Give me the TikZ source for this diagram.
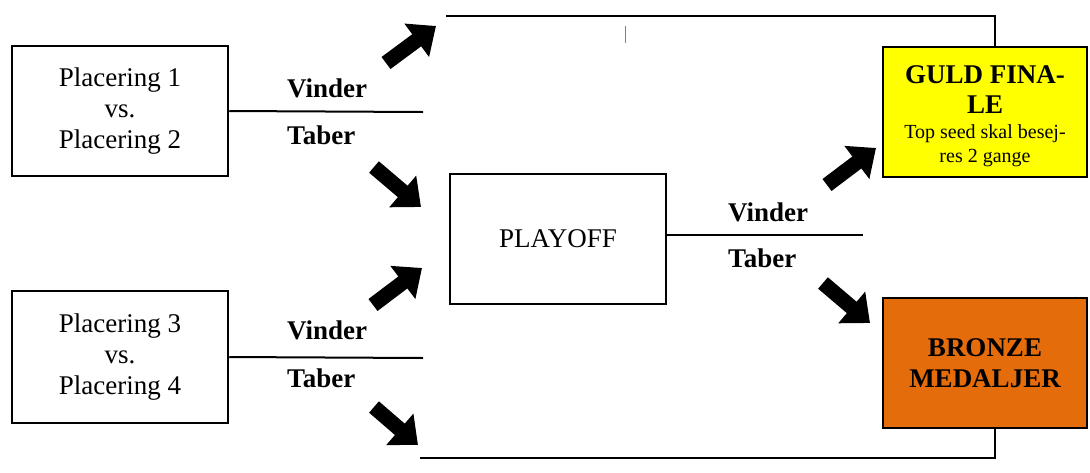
\documentclass[tikz,border=0pt]{standalone}
\usepackage{fontspec}
\setmainfont{Liberation Serif}
\usetikzlibrary{arrows.meta}
\definecolor{guld}{HTML}{FFFF00}
\definecolor{bronze}{HTML}{E46C0A}
\tikzset{
  box/.style={draw, line width=2.5pt, align=center, inner sep=0pt, minimum width=216pt, minimum height=130pt, font=\fontsize{27}{31}\selectfont},
  res/.style={anchor=west, inner sep=0pt, font=\fontsize{27}{31}\selectfont\bfseries},
  line/.style={line width=2pt},
  fat/.style={line width=15pt, -{Triangle[length=24pt,width=40pt]}}
}
\begin{document}
\begin{tikzpicture}[x=1pt,y=-1pt]
\useasboundingbox (0,0) rectangle (1090,472);
% kampe
\node[box, text depth=6pt] (k1) at (120,111) {Placering 1\\vs.\\Placering 2};
\node[box, text depth=6pt, minimum height=132pt] (k2) at (120,357) {Placering 3\\vs.\\Placering 4};
\node[box] (po) at (558,239) {PLAYOFF};
\node[box, fill=guld, minimum width=204pt] (gf) at (985,112) {};
\node[box, fill=bronze, minimum width=204pt] (bm) at (985,363) {\bfseries BRONZE\\\bfseries MEDALJER};
\node[align=center, inner sep=0pt, font=\fontsize{27}{30}\selectfont\bfseries] (gft) at (985,90) {GULD FINA-\\LE};
\node[align=center, inner sep=0pt, font=\fontsize{20}{24}\selectfont] (gfs) at (985,146) {Top seed skal besej-\\res 2 gange};
% streger
\coordinate (e1) at (423,112);
\coordinate (e2) at (423,358);
\coordinate (e3) at (863,235);
\draw[line] (k1.east) -- (e1);
\draw[line] (k2.east) -- (e2);
\draw[line] (po.east |- e3) -- (e3);
\node[res] (v1) at (287,88) {Vinder};
\node[res] (t1) at (287,135) {Taber};
\node[res] (v2) at (287,330) {Vinder};
\node[res] (t2) at (287,378) {Taber};
\node[res] (v3) at (728,212) {Vinder};
\node[res] (t3) at (728,258) {Taber};
\coordinate (top) at (446,16);
\coordinate (bund) at (420,458);
\draw[line] (top) -| ([xshift=10pt]gf.north);
\draw[line] (bund) -| ([xshift=10pt]bm.south);
\draw[gray, line width=1pt] (625,26) -- (625,43);
% pile
\foreach \a/\b/\c/\d in {386/63/436/26, 374/167/421/207, 373/305/422/268, 374/407/418/445, 827/185/876/148, 823/283/870/323}
  \draw[fat] (\a,\b) -- (\c,\d);
\end{tikzpicture}
\end{document}
